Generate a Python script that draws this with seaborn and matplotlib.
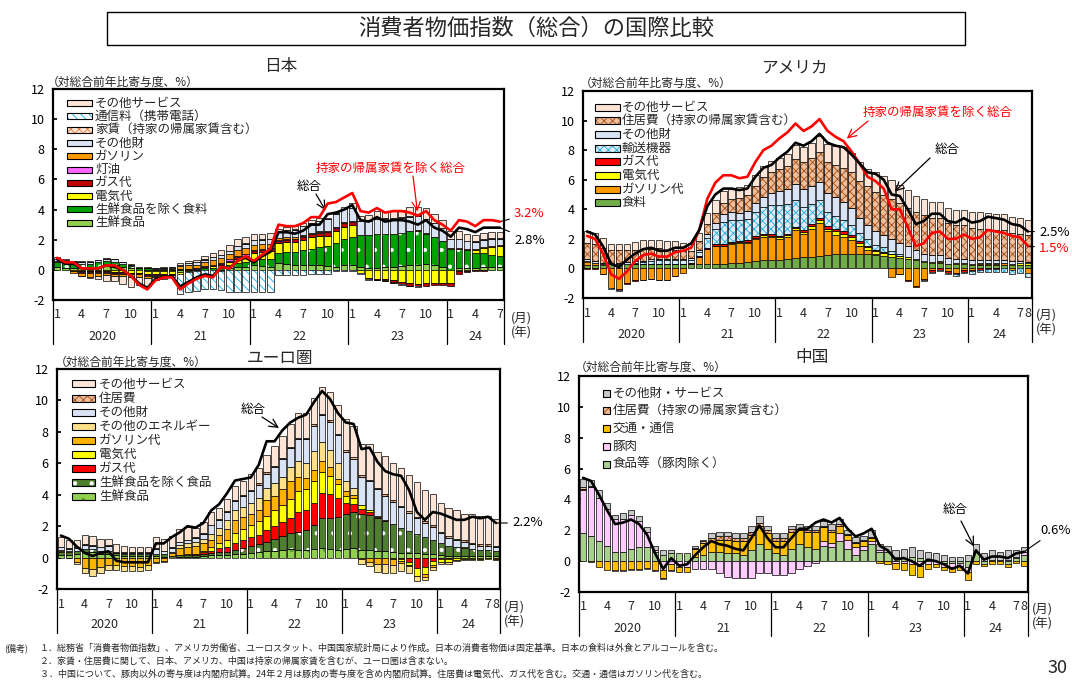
import numpy as np
import matplotlib
matplotlib.use("Agg")
import matplotlib.pyplot as plt
import matplotlib.transforms as mtrans
from matplotlib.patches import Rectangle
import seaborn as sns

# ---------------------------------------------------------------- data
# monthly contributions (pt), Jan 2020 -> Jul 2024 (Japan) / Aug 2024 (others)
years = ["2020", "21", "22", "23", "24"]

# Japan
jp_total = [0.7, 0.4, 0.4, 0.1, 0.1, 0.1, 0.3, 0.2, 0.0, -0.4, -0.9, -1.2,
            -0.6, -0.5, -0.4, -1.1, -0.8, -0.5, -0.3, -0.4, 0.2, 0.1, 0.6, 0.8,
            0.5, 0.9, 1.2, 2.5, 2.5, 2.4, 2.6, 3.0, 3.0, 3.7, 3.8, 4.0,
            4.3, 3.3, 3.2, 3.5, 3.2, 3.3, 3.3, 3.2, 3.0, 3.3, 2.8, 2.6,
            2.2, 2.8, 2.7, 2.5, 2.8, 2.8, 2.8]
jp_ex_rent = [0.8, 0.5, 0.5, 0.1, 0.1, 0.1, 0.3, 0.3, 0.0, -0.4, -1.0, -1.3,
              -0.7, -0.5, -0.5, -1.3, -0.9, -0.6, -0.4, -0.5, 0.2, 0.1, 0.6, 0.9,
              0.6, 1.0, 1.4, 3.0, 2.9, 2.9, 3.1, 3.5, 3.5, 4.4, 4.5, 4.8,
              5.1, 3.9, 3.8, 4.1, 3.8, 3.9, 3.9, 3.8, 3.6, 3.9, 3.3, 3.0,
              2.6, 3.3, 3.2, 2.9, 3.3, 3.3, 3.2]
jp_fresh = [0.2, 0.15, 0.1, 0.1, 0.1, 0.2, 0.3, 0.3, 0.2, 0.1, 0.0, -0.1,
            -0.1, -0.1, -0.1, -0.15, -0.1, -0.1, 0.0, 0.0, -0.05, 0.1, 0.2, 0.2,
            0.3, 0.25, 0.2, 0.45, 0.4, 0.3, 0.3, 0.3, 0.3, 0.25, 0.2, 0.3,
            0.3, 0.2, 0.15, 0.15, 0.2, 0.2, 0.25, 0.3, 0.35, 0.4, 0.3, 0.2,
            0.0, 0.1, 0.15, 0.15, 0.2, 0.2, 0.2]
jp_food = [0.3, 0.3, 0.3, 0.3, 0.3, 0.3, 0.3, 0.25, 0.2, 0.15, 0.1, 0.1,
           0.05, 0.05, 0.05, 0.05, 0.05, 0.05, 0.1, 0.1, 0.15, 0.2, 0.25, 0.3,
           0.4, 0.45, 0.5, 0.7, 0.8, 0.9, 1.0, 1.1, 1.2, 1.3, 1.6, 1.75,
           1.9, 2.1, 2.15, 2.2, 2.2, 2.2, 2.2, 2.25, 2.2, 2.0, 1.85, 1.7,
           1.4, 1.3, 1.15, 1.0, 0.9, 0.8, 0.7]
jp_elec = [0.0, 0.0, -0.05, -0.1, -0.1, -0.1, -0.1, -0.15, -0.15, -0.2, -0.2, -0.2,
           -0.2, -0.2, -0.2, -0.1, -0.05, 0.0, 0.1, 0.15, 0.2, 0.25, 0.3, 0.35,
           0.45, 0.5, 0.55, 0.6, 0.65, 0.65, 0.7, 0.75, 0.75, 0.7, 0.75, 0.8,
           0.75, -0.2, -0.55, -0.6, -0.6, -0.7, -0.8, -0.9, -0.95, -0.9, -0.85, -0.85,
           -0.85, -0.1, -0.05, 0.15, 0.35, 0.5, 0.65]
jp_gas = [0.0, 0.0, -0.02, -0.05, -0.05, -0.05, -0.05, -0.05, -0.05, -0.05, -0.05, -0.05,
          -0.05, -0.05, -0.05, -0.03, -0.02, 0.0, 0.02, 0.03, 0.05, 0.06, 0.08, 0.1,
          0.1, 0.12, 0.13, 0.15, 0.16, 0.17, 0.18, 0.2, 0.22, 0.25, 0.25, 0.25,
          0.25, 0.0, -0.03, -0.05, -0.07, -0.1, -0.12, -0.15, -0.15, -0.15, -0.15, -0.15,
          -0.2, -0.15, -0.12, -0.1, -0.05, 0.0, 0.02]
jp_kerosene = [0.02, 0.01, -0.02, -0.04, -0.05, -0.05, -0.05, -0.05, -0.05, -0.05, -0.05, -0.04,
               -0.03, -0.02, 0.0, 0.03, 0.04, 0.05, 0.06, 0.07, 0.08, 0.08, 0.08, 0.08,
               0.08, 0.08, 0.08, 0.07, 0.06, 0.05, 0.05, 0.05, 0.05, 0.04, 0.04, 0.04,
               0.04, 0.02, 0.01, 0.0, -0.01, -0.02, -0.02, -0.01, 0.0, 0.0, 0.0, 0.0,
               0.0, 0.0, 0.01, 0.01, 0.01, 0.01, 0.01]
jp_gasoline = [0.05, 0.02, -0.1, -0.2, -0.25, -0.2, -0.15, -0.15, -0.15, -0.15, -0.15, -0.15,
               -0.1, -0.05, 0.05, 0.15, 0.2, 0.25, 0.25, 0.3, 0.3, 0.35, 0.4, 0.4,
               0.35, 0.3, 0.25, 0.15, 0.1, 0.1, 0.1, 0.05, 0.05, 0.05, 0.03, 0.02,
               0.0, -0.02, -0.03, -0.03, -0.05, -0.05, -0.03, 0.02, 0.1, 0.05, 0.03, 0.03,
               0.05, 0.05, 0.05, 0.05, 0.05, 0.05, 0.05]
jp_goods = [0.15, 0.15, 0.15, 0.15, 0.15, 0.15, 0.15, 0.15, 0.1, 0.1, 0.05, 0.05,
            0.05, 0.1, 0.1, 0.1, 0.15, 0.15, 0.15, 0.2, 0.2, 0.2, 0.25, 0.3,
            0.3, 0.3, 0.35, 0.4, 0.45, 0.5, 0.55, 0.6, 0.65, 0.8, 0.85, 0.85,
            0.85, 0.9, 0.95, 1.0, 1.0, 1.0, 1.0, 0.95, 0.95, 0.9, 0.9, 0.85,
            0.6, 0.6, 0.55, 0.5, 0.5, 0.5, 0.45]
jp_rent = [0.02, 0.02, 0.02, 0.02, 0.02, 0.02, 0.02, 0.02, 0.02, 0.02, 0.02, 0.02,
           0.02, 0.02, 0.02, 0.02, 0.02, 0.02, 0.02, 0.02, 0.02, 0.02, 0.02, 0.02,
           0.02, 0.02, 0.02, 0.02, 0.02, 0.02, 0.03, 0.03, 0.03, 0.03, 0.03, 0.03,
           0.03, 0.03, 0.03, 0.03, 0.03, 0.03, 0.03, 0.03, 0.03, 0.03, 0.03, 0.03,
           0.03, 0.03, 0.03, 0.03, 0.03, 0.03, 0.03]
jp_telecom = [0.0, 0.0, 0.0, -0.02, -0.02, -0.02, -0.02, -0.02, -0.02, -0.02, -0.02, -0.02,
              -0.02, -0.02, -0.02, -1.3, -1.3, -1.3, -1.3, -1.3, -1.3, -1.45, -1.45, -1.45,
              -1.45, -1.45, -1.45, -0.35, -0.35, -0.35, -0.35, -0.3, -0.3, -0.3, -0.05, -0.05,
              -0.05, -0.05, -0.05, -0.02, -0.02, -0.02, -0.02, -0.02, -0.02, 0.0, 0.0, 0.0,
              0.0, 0.0, 0.0, 0.0, 0.0, 0.0, 0.0]
jp_service = [0.1, 0.1, 0.05, 0.0, -0.1, -0.2, -0.35, -0.35, -0.55, -0.7, -0.55, -0.5,
              -0.2, -0.15, -0.1, 0.1, 0.1, 0.15, 0.2, 0.25, 0.3, 0.4, 0.45, 0.45,
              0.35, 0.35, 0.35, 0.2, 0.2, 0.2, 0.2, 0.2, 0.2, 0.0, 0.1, 0.1,
              0.3, 0.35, 0.35, 0.5, 0.4, 0.45, 0.5, 0.6, 0.55, 0.7, 0.6, 0.5,
              0.5, 0.5, 0.45, 0.4, 0.4, 0.4, 0.4]

# United States
us_total = [2.5, 2.3, 1.5, 0.3, 0.1, 0.6, 1.0, 1.3, 1.4, 1.2, 1.2, 1.4,
            1.4, 1.7, 2.6, 4.2, 5.0, 5.4, 5.4, 5.3, 5.4, 6.2, 6.8, 7.0,
            7.5, 7.9, 8.5, 8.3, 8.6, 9.1, 8.5, 8.3, 8.2, 7.7, 7.1, 6.5,
            6.4, 6.0, 5.0, 4.9, 4.0, 3.0, 3.2, 3.7, 3.7, 3.2, 3.1, 3.4,
            3.1, 3.2, 3.5, 3.4, 3.3, 3.0, 2.9, 2.5]
us_ex_rent = [2.2, 2.0, 1.0, -0.4, -0.7, -0.2, 0.5, 0.9, 1.0, 0.8, 0.8, 1.1,
              1.2, 1.4, 2.6, 4.7, 5.8, 6.3, 6.3, 6.1, 6.2, 7.2, 8.0, 8.3,
              8.8, 9.2, 9.8, 9.3, 9.6, 10.1, 9.3, 8.9, 8.6, 7.9, 7.1, 6.2,
              5.9, 5.4, 4.0, 4.0, 2.8, 1.5, 1.7, 2.4, 2.5, 2.0, 2.0, 2.3,
              2.0, 2.1, 2.6, 2.5, 2.4, 2.2, 2.1, 1.5]
us_food = [0.25, 0.25, 0.25, 0.3, 0.3, 0.3, 0.3, 0.3, 0.3, 0.3, 0.3, 0.3,
           0.3, 0.3, 0.3, 0.3, 0.3, 0.3, 0.35, 0.4, 0.45, 0.5, 0.55, 0.6,
           0.6, 0.65, 0.7, 0.75, 0.8, 0.85, 0.9, 0.95, 1.0, 1.0, 0.95, 0.95,
           0.9, 0.85, 0.8, 0.7, 0.65, 0.55, 0.45, 0.4, 0.35, 0.3, 0.3, 0.3,
           0.25, 0.25, 0.25, 0.25, 0.25, 0.25, 0.25, 0.25]
us_gasoline = [0.2, 0.1, -0.35, -1.3, -1.4, -1.0, -0.8, -0.75, -0.7, -0.75, -0.75, -0.5,
               -0.3, 0.0, 0.45, 1.0, 1.2, 1.2, 1.3, 1.3, 1.3, 1.5, 1.6, 1.5,
               1.4, 1.5, 1.9, 1.6, 1.9, 2.2, 1.6, 1.3, 1.1, 0.9, 0.6, 0.3,
               0.05, 0.0, -0.6, -0.4, -0.8, -1.2, -0.7, -0.1, 0.1, -0.2, -0.3, -0.1,
               -0.1, 0.05, 0.05, 0.05, 0.1, -0.1, 0.0, -0.3]
us_elec = [0.02, 0.02, 0.02, 0.02, 0.02, 0.02, 0.02, 0.02, 0.02, 0.02, 0.02, 0.02,
           0.02, 0.02, 0.03, 0.03, 0.04, 0.05, 0.05, 0.06, 0.07, 0.08, 0.08, 0.08,
           0.1, 0.1, 0.12, 0.13, 0.15, 0.2, 0.2, 0.25, 0.25, 0.2, 0.2, 0.2,
           0.2, 0.2, 0.15, 0.15, 0.1, 0.08, 0.05, 0.03, 0.03, 0.03, 0.05, 0.05,
           0.05, 0.05, 0.05, 0.07, 0.05, 0.07, 0.1, 0.1]
us_gas = [-0.02, -0.03, -0.04, -0.05, -0.05, -0.04, -0.03, -0.03, -0.02, -0.02, -0.02, -0.02,
          0.0, 0.02, 0.05, 0.05, 0.08, 0.1, 0.1, 0.1, 0.1, 0.12, 0.12, 0.12,
          0.12, 0.1, 0.1, 0.1, 0.13, 0.17, 0.15, 0.15, 0.15, 0.14, 0.09, 0.1,
          0.1, 0.07, 0.03, -0.01, -0.05, -0.08, -0.1, -0.13, -0.1, -0.1, -0.1, -0.12,
          -0.1, -0.1, -0.05, -0.02, 0.0, 0.0, 0.0, 0.0]
us_vehicles = [0.0, 0.0, 0.0, -0.05, -0.05, 0.0, 0.05, 0.1, 0.2, 0.25, 0.25, 0.25,
               0.25, 0.25, 0.3, 0.65, 1.05, 1.5, 1.5, 1.4, 1.4, 1.6, 1.8, 2.0,
               2.1, 2.0, 1.8, 1.6, 1.4, 1.2, 1.0, 0.9, 0.8, 0.7, 0.55, 0.45,
               0.35, 0.3, 0.2, 0.15, 0.05, 0.0, -0.05, -0.08, -0.08, -0.1, -0.1, -0.12,
               -0.15, -0.15, -0.18, -0.2, -0.22, -0.25, -0.28, -0.3]
us_goods = [0.15, 0.15, 0.1, 0.05, 0.05, 0.1, 0.1, 0.1, 0.1, 0.1, 0.1, 0.1,
            0.1, 0.1, 0.15, 0.3, 0.4, 0.5, 0.5, 0.5, 0.55, 0.6, 0.7, 0.8,
            0.9, 1.0, 1.1, 1.2, 1.2, 1.25, 1.25, 1.25, 1.2, 1.15, 1.05, 0.95,
            0.9, 0.85, 0.8, 0.75, 0.7, 0.6, 0.5, 0.45, 0.4, 0.35, 0.3, 0.3,
            0.25, 0.25, 0.2, 0.2, 0.2, 0.15, 0.15, 0.1]
us_shelter = [1.1, 1.1, 1.0, 0.9, 0.9, 0.8, 0.8, 0.8, 0.7, 0.7, 0.6, 0.6,
              0.5, 0.5, 0.6, 0.7, 0.7, 0.8, 0.9, 1.0, 1.1, 1.2, 1.3, 1.4,
              1.5, 1.6, 1.7, 1.8, 1.9, 2.0, 2.1, 2.2, 2.3, 2.4, 2.5, 2.6,
              2.7, 2.7, 2.7, 2.7, 2.6, 2.6, 2.6, 2.5, 2.5, 2.4, 2.3, 2.3,
              2.2, 2.1, 2.1, 2.0, 2.0, 1.9, 1.8, 1.8]
us_service = [0.8, 0.8, 0.7, 0.35, 0.35, 0.45, 0.5, 0.6, 0.6, 0.55, 0.6, 0.6,
              0.55, 0.55, 0.5, 0.75, 0.85, 0.8, 0.75, 0.75, 0.7, 0.75, 0.8, 0.75,
              0.75, 0.8, 0.9, 1.0, 1.0, 1.1, 1.2, 1.3, 1.4, 1.3, 1.25, 1.2,
              1.3, 1.3, 1.3, 1.2, 1.2, 1.1, 1.1, 1.1, 1.1, 1.0, 1.0, 1.0,
              1.1, 1.1, 1.1, 1.1, 1.1, 1.1, 1.1, 1.0]

# Euro area
eu_total = [1.4, 1.2, 0.7, 0.3, 0.1, 0.3, 0.4, -0.2, -0.3, -0.3, -0.3, -0.3,
            0.9, 0.9, 1.3, 1.6, 2.0, 1.9, 2.2, 3.0, 3.4, 4.1, 4.9, 5.0,
            5.1, 5.9, 7.4, 7.4, 8.1, 8.6, 8.9, 9.1, 9.9, 10.6, 10.1, 9.2,
            8.6, 8.5, 6.9, 7.0, 6.1, 5.5, 5.3, 5.2, 4.3, 2.9, 2.4, 2.9,
            2.8, 2.6, 2.4, 2.4, 2.6, 2.5, 2.6, 2.2]
eu_fresh = [0.15, 0.15, 0.2, 0.35, 0.35, 0.25, 0.2, 0.15, 0.1, 0.1, 0.1, 0.1,
            0.1, 0.05, 0.0, 0.05, 0.05, 0.05, 0.1, 0.15, 0.15, 0.15, 0.2, 0.25,
            0.3, 0.35, 0.4, 0.45, 0.5, 0.55, 0.5, 0.5, 0.55, 0.6, 0.55, 0.5,
            0.55, 0.6, 0.5, 0.5, 0.4, 0.4, 0.35, 0.3, 0.3, 0.3, 0.25, 0.2,
            0.15, 0.1, 0.1, 0.1, 0.1, 0.1, 0.1, 0.1]
eu_food = [0.2, 0.2, 0.2, 0.2, 0.2, 0.2, 0.2, 0.15, 0.15, 0.15, 0.15, 0.15,
           0.15, 0.15, 0.1, 0.1, 0.1, 0.1, 0.15, 0.15, 0.2, 0.2, 0.3, 0.35,
           0.45, 0.5, 0.6, 0.75, 0.9, 1.0, 1.1, 1.25, 1.5, 1.9, 2.0, 2.1,
           2.2, 2.3, 2.3, 2.2, 2.1, 1.95, 1.8, 1.6, 1.4, 1.2, 1.05, 0.95,
           0.8, 0.65, 0.55, 0.5, 0.45, 0.4, 0.4, 0.35]
eu_gas = [0.0, -0.02, -0.03, -0.05, -0.05, -0.05, -0.05, -0.05, -0.05, -0.04, -0.03, -0.03,
          0.0, 0.0, 0.0, 0.0, 0.02, 0.05, 0.1, 0.15, 0.25, 0.35, 0.45, 0.55,
          0.55, 0.6, 0.75, 0.8, 0.85, 0.95, 1.3, 1.25, 1.45, 1.6, 1.5, 1.2,
          0.7, 0.5, 0.3, 0.2, 0.1, 0.05, -0.05, -0.1, -0.3, -0.65, -0.6, -0.2,
          -0.1, -0.1, -0.05, -0.05, -0.05, -0.05, -0.05, -0.05]
eu_elec = [0.0, 0.0, 0.0, 0.0, 0.0, 0.0, 0.0, 0.0, 0.0, 0.0, 0.0, 0.0,
           0.0, 0.0, 0.0, 0.02, 0.03, 0.05, 0.1, 0.2, 0.3, 0.45, 0.6, 0.7,
           0.8, 0.9, 0.9, 1.0, 1.1, 1.2, 1.35, 1.35, 1.35, 1.35, 1.15, 0.9,
           0.5, 0.4, 0.25, 0.15, 0.05, 0.0, -0.05, -0.1, -0.2, -0.5, -0.45, -0.3,
           -0.2, -0.15, -0.1, -0.05, -0.05, -0.05, -0.05, -0.05]
eu_fuel = [0.1, 0.05, -0.25, -0.6, -0.7, -0.55, -0.45, -0.45, -0.5, -0.5, -0.55, -0.45,
           -0.25, -0.2, 0.2, 0.45, 0.5, 0.5, 0.45, 0.5, 0.55, 0.7, 0.85, 0.75,
           0.65, 0.7, 1.0, 0.9, 1.0, 1.15, 0.9, 0.7, 0.75, 0.7, 0.55, 0.3,
           0.3, 0.2, -0.1, -0.25, -0.4, -0.4, -0.35, -0.15, -0.05, -0.05, -0.2, -0.1,
           0.0, -0.05, 0.05, 0.05, 0.0, -0.05, 0.0, -0.05]
eu_energy = [0.05, 0.0, -0.1, -0.3, -0.4, -0.35, -0.3, -0.3, -0.3, -0.3, -0.3, -0.3,
             -0.1, -0.1, 0.05, 0.15, 0.2, 0.25, 0.3, 0.35, 0.45, 0.55, 0.6, 0.65,
             0.7, 0.75, 0.8, 0.85, 0.8, 0.9, 1.0, 1.0, 1.2, 1.2, 1.1, 1.0,
             0.6, 0.4, -0.3, -0.3, -0.5, -0.6, -0.5, -0.5, -0.4, -0.3, -0.2, -0.2,
             -0.1, -0.1, -0.05, -0.05, -0.05, 0.0, 0.0, 0.0]
eu_goods = [0.15, 0.15, 0.2, 0.25, 0.2, 0.2, 0.35, 0.0, 0.05, 0.05, 0.05, 0.05,
            0.3, 0.2, 0.25, 0.2, 0.2, 0.25, 0.3, 0.55, 0.5, 0.5, 0.6, 0.7,
            0.8, 0.85, 0.9, 1.0, 1.1, 1.2, 1.4, 1.5, 1.6, 1.7, 1.8, 1.8,
            1.9, 1.9, 1.8, 1.8, 1.7, 1.55, 1.4, 1.3, 1.15, 1.0, 0.9, 0.8,
            0.6, 0.5, 0.4, 0.35, 0.3, 0.25, 0.25, 0.2]
eu_housing = [0.05, 0.05, 0.05, 0.05, 0.05, 0.05, 0.05, 0.05, 0.05, 0.05, 0.05, 0.05,
              0.05, 0.05, 0.05, 0.05, 0.05, 0.05, 0.05, 0.05, 0.05, 0.05, 0.05, 0.05,
              0.07, 0.07, 0.07, 0.07, 0.07, 0.07, 0.07, 0.07, 0.07, 0.08, 0.08, 0.08,
              0.1, 0.1, 0.1, 0.1, 0.1, 0.1, 0.1, 0.1, 0.1, 0.1, 0.1, 0.1,
              0.1, 0.1, 0.1, 0.1, 0.1, 0.1, 0.1, 0.1]
eu_service = [0.6, 0.55, 0.45, 0.6, 0.6, 0.5, 0.4, 0.5, 0.4, 0.35, 0.35, 0.35,
              0.7, 0.75, 0.7, 0.8, 0.8, 0.6, 0.7, 0.8, 0.7, 0.8, 0.9, 0.9,
              1.0, 1.0, 1.1, 1.3, 1.4, 1.5, 1.6, 1.6, 1.7, 1.7, 1.8, 1.8,
              2.0, 2.0, 2.0, 2.3, 2.3, 2.4, 2.4, 2.4, 2.3, 2.2, 2.0, 2.0,
              1.8, 1.8, 1.8, 1.7, 1.8, 1.8, 1.8, 1.7]

# China
cn_total = [5.4, 5.2, 4.3, 3.3, 2.4, 2.5, 2.7, 2.4, 1.7, 0.5, -0.5, 0.2,
            -0.3, -0.2, 0.4, 0.9, 1.3, 1.1, 1.0, 0.8, 0.7, 1.5, 2.3, 1.5,
            0.9, 0.9, 1.5, 2.1, 2.1, 2.5, 2.7, 2.5, 2.8, 2.1, 1.6, 1.8,
            2.1, 1.0, 0.7, 0.1, 0.2, 0.0, -0.3, 0.1, 0.0, -0.2, -0.5, -0.3,
            -0.8, 0.7, 0.1, 0.3, 0.3, 0.2, 0.5, 0.6]
cn_food = [1.8, 1.6, 1.3, 1.0, 0.6, 0.6, 0.8, 0.9, 0.9, 0.6, 0.4, 0.5,
           0.5, 0.5, 0.3, 0.4, 0.6, 0.6, 0.5, 0.5, 0.4, 0.7, 1.1, 0.8,
           0.5, 0.4, 0.8, 1.1, 0.9, 0.8, 1.0, 0.9, 1.3, 0.8, 0.4, 0.7,
           1.1, 0.6, 0.6, 0.3, 0.2, 0.3, 0.2, 0.1, 0.0, -0.1, -0.1, -0.1,
           -0.4, 0.6, -0.2, 0.1, 0.0, -0.2, 0.2, 0.4]
cn_pork = [2.8, 3.2, 2.8, 2.4, 2.1, 2.1, 2.2, 1.7, 1.0, 0.1, -0.6, -0.2,
           -0.4, -0.4, -0.5, -0.5, -0.5, -0.8, -1.0, -1.1, -1.1, -1.1, -0.8, -0.8,
           -0.9, -0.9, -0.8, -0.5, -0.3, -0.1, 0.3, 0.3, 0.5, 0.6, 0.5, 0.3,
           0.2, 0.1, 0.0, -0.1, -0.1, -0.2, -0.3, -0.2, -0.2, -0.3, -0.3, -0.2,
           -0.3, 0.0, 0.0, 0.0, 0.1, 0.1, 0.1, 0.2]
cn_transport = [0.1, -0.05, -0.4, -0.6, -0.6, -0.6, -0.5, -0.5, -0.45, -0.6, -0.5, -0.4,
                -0.3, -0.3, 0.5, 0.8, 0.7, 0.8, 0.9, 0.8, 0.9, 1.0, 1.2, 1.0,
                0.8, 0.9, 1.1, 0.9, 1.0, 1.1, 0.9, 0.7, 0.5, 0.3, 0.3, 0.3,
                0.2, -0.1, -0.2, -0.4, -0.5, -0.7, -0.7, -0.3, -0.2, -0.2, -0.3, -0.3,
                -0.5, -0.2, -0.1, -0.2, -0.2, -0.2, -0.1, -0.3]
cn_housing = [0.1, 0.05, 0.0, 0.0, -0.05, -0.05, -0.05, -0.05, -0.05, -0.05, -0.05, -0.05,
              0.0, 0.0, 0.05, 0.1, 0.2, 0.2, 0.2, 0.2, 0.2, 0.2, 0.2, 0.2,
              0.2, 0.2, 0.2, 0.1, 0.1, 0.1, 0.1, 0.1, 0.1, 0.05, 0.05, 0.05,
              0.05, 0.0, 0.0, 0.0, 0.0, 0.0, 0.0, 0.0, 0.0, 0.0, 0.0, 0.0,
              0.0, 0.0, 0.0, 0.0, 0.0, 0.0, 0.0, 0.0]
cn_other = [0.5, 0.4, 0.5, 0.4, 0.3, 0.4, 0.3, 0.3, 0.3, 0.3, 0.3, 0.2,
            0.0, 0.0, 0.1, 0.1, 0.3, 0.3, 0.3, 0.3, 0.3, 0.4, 0.4, 0.3,
            0.3, 0.3, 0.2, 0.3, 0.3, 0.3, 0.3, 0.4, 0.3, 0.3, 0.3, 0.3,
            0.5, 0.4, 0.4, 0.4, 0.6, 0.6, 0.5, 0.5, 0.5, 0.4, 0.3, 0.3,
            0.4, 0.5, 0.5, 0.6, 0.5, 0.6, 0.4, 0.3]

# ---------------------------------------------------------------- styles
PEACH = dict(face="#FCE4D6")
GOODS = dict(face="#DAE3F3")
CHECK = dict(face="#EDBE9C", hatch="xxxx", hc="#A84C14")
RED = "#FF0000"

jp_layers = [  # bottom -> top
    ("生鮮食品", jp_fresh, dict(face="#92D050")),
    ("生鮮食品を除く食料", jp_food, dict(face="#00A000", hatch=".", hc="#FFFFFF")),
    ("電気代", jp_elec, dict(face="#FFFF00")),
    ("ガス代", jp_gas, dict(face="#C00000")),
    ("灯油", jp_kerosene, dict(face="#FF66FF")),
    ("ガソリン", jp_gasoline, dict(face="#FF9900")),
    ("その他財", jp_goods, GOODS),
    ("家賃（持家の帰属家賃含む）", jp_rent, dict(face="#FCE4D6", hatch="xxxx", hc="#E07B39")),
    ("通信料（携帯電話）", jp_telecom, dict(face="#FFFFFF", hatch="\\\\\\\\", hc="#00B0F0")),
    ("その他サービス", jp_service, PEACH),
]
us_layers = [
    ("食料", us_food, dict(face="#70AD47")),
    ("ガソリン代", us_gasoline, dict(face="#FF9900")),
    ("電気代", us_elec, dict(face="#FFFF00")),
    ("ガス代", us_gas, dict(face=RED)),
    ("輸送機器", us_vehicles, dict(face="#DDEBF7", hatch="xxxx", hc="#1FAEE0")),
    ("その他財", us_goods, GOODS),
    ("住居費（持家の帰属家賃含む）", us_shelter, CHECK),
    ("その他サービス", us_service, PEACH),
]
eu_layers = [
    ("生鮮食品", eu_fresh, dict(face="#8FD14F", hatch=".", hc="#5E9A2A")),
    ("生鮮食品を除く食品", eu_food, dict(face="#4E7F2E", hatch=".", hc="#FFFFFF")),
    ("ガス代", eu_gas, dict(face=RED)),
    ("電気代", eu_elec, dict(face="#FFFF00")),
    ("ガソリン代", eu_fuel, dict(face="#FFB300")),
    ("その他のエネルギー", eu_energy, dict(face="#FFE08A")),
    ("その他財", eu_goods, GOODS),
    ("住居費", eu_housing, CHECK),
    ("その他サービス", eu_service, PEACH),
]
cn_layers = [
    ("食品等（豚肉除く）", cn_food, dict(face="#A9D18E")),
    ("豚肉", cn_pork, dict(face="#FFCCFF")),
    ("交通・通信", cn_transport, dict(face="#FFC000")),
    ("住居費（持家の帰属家賃含む）", cn_housing, CHECK),
    ("その他財・サービス", cn_other, dict(face="#C8C8C8")),
]

# ---------------------------------------------------------------- figure
sns.set_theme(style="white")
plt.rcParams["font.family"] = ["Noto Sans CJK JP", "DejaVu Sans"]
plt.rcParams["axes.unicode_minus"] = False
plt.rcParams["hatch.linewidth"] = 0.6

W, H = 1072, 683
fig = plt.figure(figsize=(W / 100, H / 100), dpi=100)


def fp(x, y):
    # pixel (from top-left) -> figure fraction
    return x / W, 1 - y / H


def make_axes(l, t, r, b):
    return fig.add_axes([l / W, 1 - b / H, (r - l) / W, (b - t) / H])


def draw_stack(ax, layers):
    n = len(layers[0][1])
    x = np.arange(n)
    pos = np.zeros(n)
    neg = np.zeros(n)
    for _, vals, st in layers:
        v = np.asarray(vals, dtype=float)
        base = np.where(v >= 0, pos, neg)
        m = v != 0
        if st.get("hatch"):
            ax.bar(x[m], v[m], bottom=base[m], width=0.8, color=st["face"],
                   edgecolor=st["hc"], hatch=st["hatch"], linewidth=0, zorder=2)
            ax.bar(x[m], v[m], bottom=base[m], width=0.8, fill=False,
                   edgecolor="black", linewidth=0.5, zorder=2)
        else:
            ax.bar(x[m], v[m], bottom=base[m], width=0.8, color=st["face"],
                   edgecolor="black", linewidth=0.5, zorder=2)
        pos += np.where(v > 0, v, 0)
        neg += np.where(v < 0, v, 0)


def draw_legend(layers, x0, y0, dy, w, h, tx):
    for i, (label, _, st) in enumerate(reversed(layers)):
        yc = y0 + i * dy
        fig.add_artist(Rectangle(fp(x0, yc + h / 2), w / W, h / H,
                                 transform=fig.transFigure, facecolor=st["face"],
                                 edgecolor=st.get("hc", "black") if st.get("hatch") else "black",
                                 hatch=st.get("hatch"), linewidth=0 if st.get("hatch") else 0.8))
        if st.get("hatch"):
            fig.add_artist(Rectangle(fp(x0, yc + h / 2), w / W, h / H,
                                     transform=fig.transFigure, fill=False,
                                     edgecolor="black", linewidth=0.8))
        fig.text(*fp(tx, yc), label, fontsize=9, va="center", ha="left")


def frame(ax, n, box, title, title_xy, ylab_xy, unit_xy):
    l, t, r, b = box
    ax.set_xlim(-0.5, n - 0.5)
    ax.set_ylim(-2, 12)
    ax.set_yticks(range(-2, 13, 2))
    ax.set_xticks([])
    ax.set_facecolor("white")
    for s in ax.spines.values():
        s.set_color("black")
        s.set_linewidth(1.6)
    ax.tick_params(axis="y", direction="in", length=3, left=True, labelsize=9,
                   pad=6, colors="black")
    hpx = b - t
    tr = mtrans.blended_transform_factory(ax.transData, ax.transAxes)
    for k in range(n):
        m = k % 12 + 1
        if m in (1, 4, 7, 10) or k == n - 1:
            ax.text(k, -15 / hpx, str(m), transform=tr, ha="center", va="center",
                    fontsize=9, clip_on=False)
    for i, yl in enumerate(years):
        first = 12 * i
        last = min(12 * i + 11, n - 1)
        ax.text((first + last) / 2, -36 / hpx, yl, transform=tr, ha="center",
                va="center", fontsize=9, clip_on=False)
    for bnd in [-0.5, 11.5, 23.5, 35.5, 47.5, n - 0.5]:
        ax.plot([bnd, bnd], [0, -44 / hpx], transform=tr, color="black",
                linewidth=0.9, clip_on=False)
    fig.text(*fp(*title_xy), title, fontsize=12, ha="center", va="center")
    fig.text(*fp(*ylab_xy), "（対総合前年比寄与度、%）", fontsize=8.5, ha="left", va="center")
    fig.text(*fp(unit_xy[0], unit_xy[1]), "(月)", fontsize=9, ha="left", va="center")
    fig.text(*fp(unit_xy[0], unit_xy[1] + 15), "(年)", fontsize=9, ha="left", va="center")


def line(ax, vals, color):
    sns.lineplot(x=np.arange(len(vals)), y=vals, ax=ax, color=color,
                 linewidth=1.9, zorder=5, legend=False)


def end_label(ax, vals, text, xy_px, color):
    k = len(vals) - 1
    ax.annotate(text, xy=(k, vals[k]), xycoords="data", xytext=fp(*xy_px),
                textcoords="figure fraction", ha="left", va="center", fontsize=9.5,
                color=color, annotation_clip=False,
                arrowprops=dict(arrowstyle="-", color="black", lw=0.8,
                                shrinkA=1, shrinkB=0))


def pointer(ax, k, vals, text, text_px, start_px, color):
    fig.text(*fp(*text_px), text, fontsize=9, color=color, ha="center", va="center")
    ax.annotate("", xy=(k, vals[k]), xycoords="data", xytext=fp(*start_px),
                textcoords="figure fraction", annotation_clip=False,
                arrowprops=dict(arrowstyle="->,head_length=0.5,head_width=0.25",
                                color=color, lw=0.9, shrinkA=0, shrinkB=3))


# title
fig.add_artist(Rectangle(fp(107, 45), 858 / W, 33 / H, transform=fig.transFigure,
                         fill=False, edgecolor="black", linewidth=1.0))
fig.text(*fp(536, 28), "消費者物価指数（総合）の国際比較", fontsize=16,
         ha="center", va="center")

# Japan
box = (53, 89, 504, 300)
ax = make_axes(*box)
draw_stack(ax, jp_layers)
line(ax, jp_total, "black")
line(ax, jp_ex_rent, RED)
frame(ax, len(jp_total), box, "日本", (281, 67), (47, 82), (511, 318))
draw_legend(jp_layers, 67, 103, 13.3, 25, 6, 95)
pointer(ax, 44, jp_ex_rent, "持家の帰属家賃を除く総合", (391, 168), (413, 176), RED)
pointer(ax, 33, jp_total, "総合", (309, 186), (316, 194), "black")
end_label(ax, jp_ex_rent, "3.2%", (514, 214), RED)
end_label(ax, jp_total, "2.8%", (514, 240), "black")

# United States
box = (583, 91, 1032, 298)
ax = make_axes(*box)
draw_stack(ax, us_layers)
line(ax, us_ex_rent, RED)
line(ax, us_total, "black")
frame(ax, len(us_total), box, "アメリカ", (795, 68), (580, 83), (1036, 315))
draw_legend(us_layers, 595, 107, 13.7, 25, 7, 622)
pointer(ax, 32, us_ex_rent, "持家の帰属家賃を除く総合", (938, 112), (868, 121), RED)
pointer(ax, 38, us_total, "総合", (947, 149), (930, 158), "black")
end_label(ax, us_total, "2.5%", (1039, 232), "black")
end_label(ax, us_ex_rent, "1.5%", (1039, 248), RED)

# Euro area
box = (57, 369, 500, 589)
ax = make_axes(*box)
draw_stack(ax, eu_layers)
line(ax, eu_total, "black")
frame(ax, len(eu_total), box, "ユーロ圏", (280, 359), (55, 362), (504, 607))
draw_legend(eu_layers, 72, 384, 14.1, 23, 7, 99)
pointer(ax, 28, eu_total, "総合", (253, 409), (262, 417), "black")
end_label(ax, eu_total, "2.2%", (512, 523), "black")

# China
box = (579, 376, 1028, 592)
ax = make_axes(*box)
draw_stack(ax, cn_layers)
line(ax, cn_total, "black")
frame(ax, len(cn_total), box, "中国", (812, 357), (575, 367), (1032, 609))
draw_legend(cn_layers, 603, 393, 17.75, 7, 7, 613)
pointer(ax, 49, cn_total, "総合", (955, 510), (961, 521), "black")
end_label(ax, cn_total, "0.6%", (1040, 530), "black")

# notes
notes = [
    "１．総務省「消費者物価指数」、アメリカ労働省、ユーロスタット、中国国家統計局により作成。日本の消費者物価は固定基準。日本の食料は外食とアルコールを含む。",
    "２．家賃・住居費に関して、日本、アメリカ、中国は持家の帰属家賃を含むが、ユーロ圏は含まない。",
    "３．中国について、豚肉以外の寄与度は内閣府試算。24年２月は豚肉の寄与度を含め内閣府試算。住居費は電気代、ガス代を含む。交通・通信はガソリン代を含む。",
]
fig.text(*fp(4, 648), "(備考)", fontsize=6.5, ha="left", va="center")
for i, s in enumerate(notes):
    fig.text(*fp(40, 648 + 13 * i), s, fontsize=6.5, ha="left", va="center")
fig.text(*fp(1057, 668), "30", fontsize=13, ha="center", va="center")

fig.savefig("out.png", dpi=100, facecolor="white")
